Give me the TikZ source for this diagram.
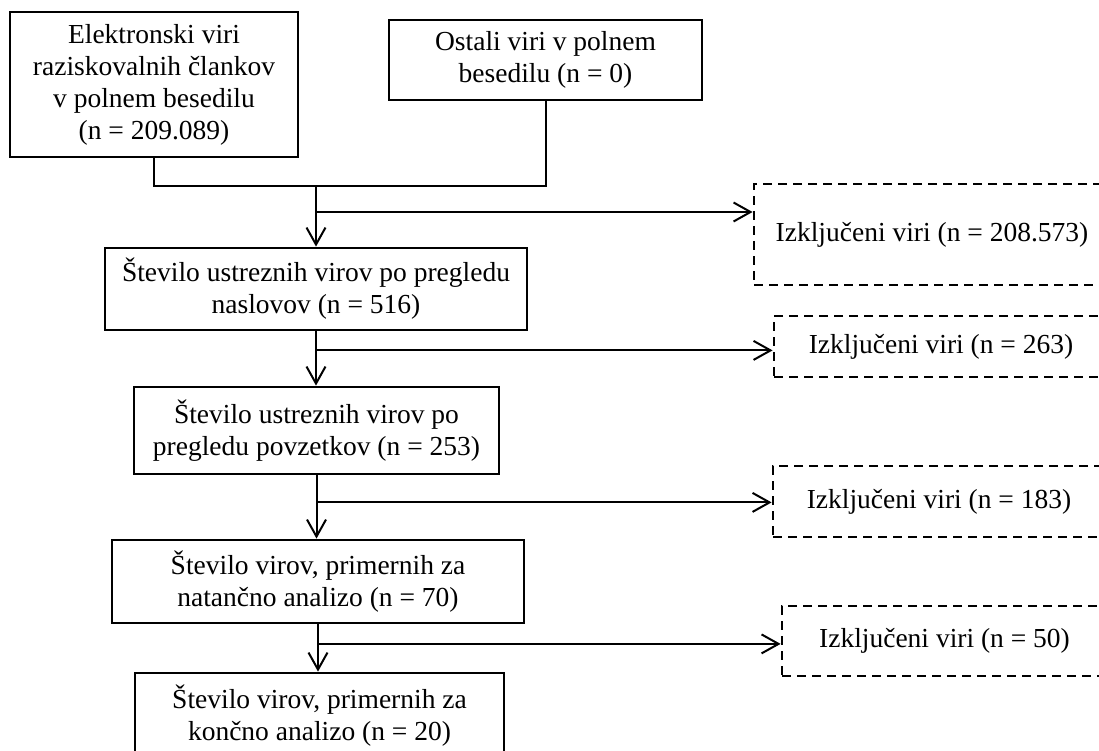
\documentclass[tikz,border=0pt]{standalone}
\usepackage{fontspec}
\setmainfont{Liberation Serif}
\usetikzlibrary{arrows.meta, positioning, calc}
\tikzset{
    stage/.style={draw, line width=2.8pt, align=center, inner sep=0pt,
      font=\fontsize{27.5}{32}\selectfont},
    excl/.style={stage, dash pattern=on 9pt off 6pt},
    link/.style={line width=2pt},
    flow/.style={link, -{Straight Barb[length=17pt, width=19pt]}},
}

\begin{document}
\begin{tikzpicture}[x=1pt, y=-1pt]
    \clip (0,0) rectangle (1099,751);

    \node[stage, minimum width=288pt, minimum height=145pt] (elek) at (154,84.5) {Elektronski viri\\raziskovalnih člankov\\v polnem besedilu\\(n = 209.089)};
    \node[stage, minimum width=313pt, minimum height=80pt] (ostali) at (545.5,60) {Ostali viri v polnem\\besedilu (n = 0)};

    \node[stage, minimum width=422pt, minimum height=82pt] (naslov) at (316,289) {Število ustreznih virov po pregledu\\naslovov (n = 516)};
    \node[stage, minimum width=365pt, minimum height=87pt] (povz) at (316.5,430.5) {Število ustreznih virov po\\pregledu povzetkov (n = 253)};
    \node[stage, minimum width=412pt, minimum height=83pt] (natan) at (318,581.5) {Število virov, primernih za\\natančno analizo (n = 70)};
    \node[stage, minimum width=369pt, minimum height=86pt] (koncno) at (319.5,716) {Število virov, primernih za\\končno analizo (n = 20)};

    \node[excl, minimum width=356pt, minimum height=101pt] (izk1) at (932,234.5) {Izključeni viri (n = 208.573)};
    \node[excl, minimum width=334pt, minimum height=61pt] (izk2) at (941,346.5) {Izključeni viri (n = 263)};
    \node[excl, minimum width=332pt, minimum height=71pt] (izk3) at (939,501.5) {Izključeni viri (n = 183)};
    \node[excl, minimum width=325pt, minimum height=70pt] (izk4) at (944.5,641) {Izključeni viri (n = 50)};

    % merge of the two sources
    \coordinate (join) at (316,186);
    \draw[link] (elek.south) |- (join) -| (ostali.south);
    \draw[flow] (join) -- (join |- naslov.north);
    \coordinate (b1) at (316,212);
    \draw[flow] (b1) -- (b1 -| izk1.west);

    \draw[flow] (naslov.south) -- (naslov.south |- povz.north);
    \path (naslov.south) ++(0,19) coordinate (b2);
    \draw[flow] (b2) -- (b2 -| izk2.west);

    \draw[flow] (povz.south) -- (povz.south |- natan.north);
    \path (povz.south) ++(0,27) coordinate (b3);
    \draw[flow] (b3) -- (b3 -| izk3.west);

    \draw[flow] (natan.south) -- (natan.south |- koncno.north);
    \path (natan.south) ++(0,19.5) coordinate (b4);
    \draw[flow] (b4) -- (b4 -| izk4.west);
\end{tikzpicture}
\end{document}
